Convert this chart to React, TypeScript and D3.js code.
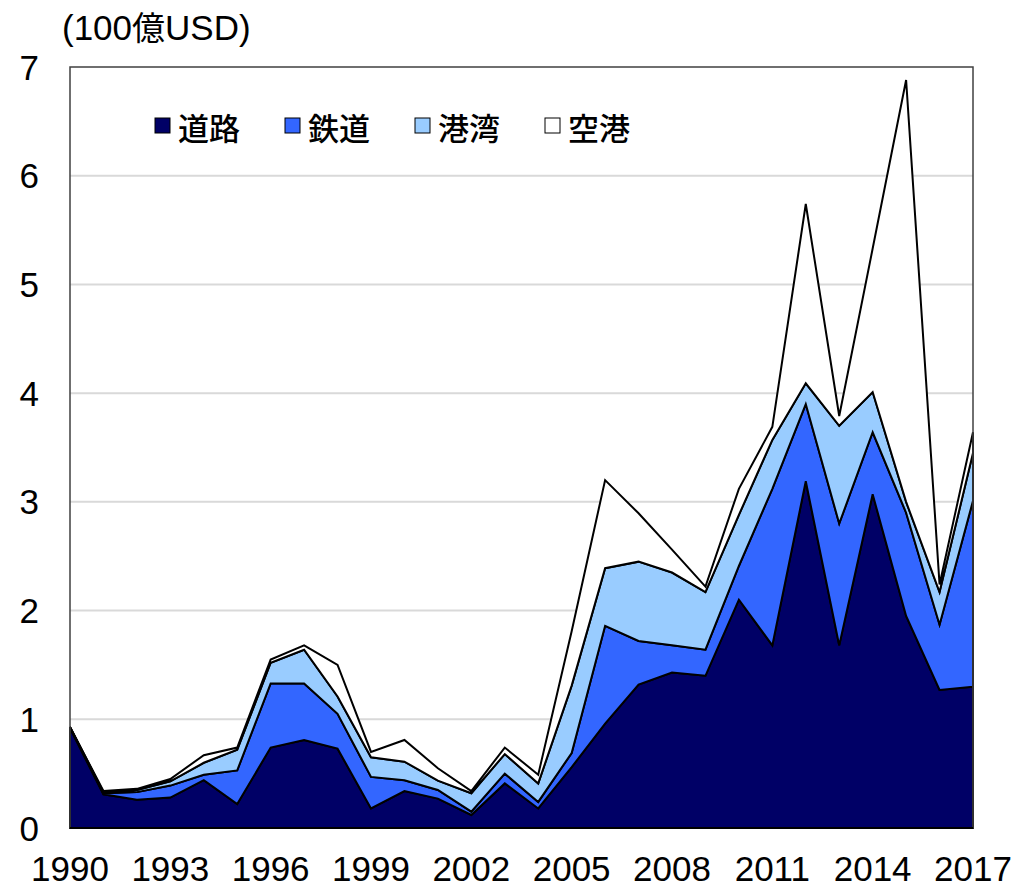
import React from 'react';
import * as d3 from 'd3';

// 1990-2017, values in 100億USD
const years = [1990, 1991, 1992, 1993, 1994, 1995, 1996, 1997, 1998, 1999, 2000, 2001, 2002, 2003, 2004, 2005, 2006, 2007, 2008, 2009, 2010, 2011, 2012, 2013, 2014, 2015, 2016, 2017];
const road = [0.92, 0.31, 0.26, 0.28, 0.44, 0.22, 0.74, 0.81, 0.73, 0.18, 0.34, 0.27, 0.12, 0.41, 0.18, 0.56, 0.96, 1.32, 1.43, 1.40, 2.10, 1.68, 3.19, 1.68, 3.07, 1.95, 1.27, 1.30];
const rail = [0.01, 0.01, 0.07, 0.11, 0.05, 0.31, 0.59, 0.52, 0.32, 0.29, 0.10, 0.08, 0.03, 0.09, 0.06, 0.13, 0.90, 0.40, 0.25, 0.24, 0.31, 1.44, 0.71, 1.12, 0.57, 0.95, 0.60, 1.71];
const port = [0.0, 0.01, 0.02, 0.04, 0.11, 0.19, 0.19, 0.31, 0.16, 0.18, 0.17, 0.085, 0.17, 0.18, 0.17, 0.62, 0.53, 0.73, 0.67, 0.53, 0.47, 0.45, 0.19, 0.90, 0.37, 0.10, 0.30, 0.44];
const air = [0.0, 0.01, 0.01, 0.02, 0.07, 0.02, 0.03, 0.04, 0.29, 0.05, 0.20, 0.115, 0.02, 0.06, 0.08, 0.50, 0.81, 0.445, 0.21, 0.05, 0.24, 0.12, 1.65, 0.09, 1.32, 3.88, 0.07, 0.19];

const seriesNames = ['道路', '鉄道', '港湾', '空港'];
const seriesColors = ['#000066', '#3366FF', '#99CCFF', '#FFFFFF'];
const yTicks = [0, 1, 2, 3, 4, 5, 6, 7];
const xTickYears = [1990, 1993, 1996, 1999, 2002, 2005, 2008, 2011, 2014, 2017];

const W = 1018;
const H = 888;
const left = 70, right = 973, top = 67, bottom = 828;
const font = '"Liberation Sans", Arial, sans-serif';
const cjk = '"Noto Sans CJK JP", "Liberation Sans", sans-serif';

export default function App() {
  const rows = years.map((y, i) => ({ year: y, 道路: road[i], 鉄道: rail[i], 港湾: port[i], 空港: air[i] }));
  const stacked = d3.stack<any>().keys(seriesNames)(rows);

  const x = d3.scaleLinear().domain([1990, 2017]).range([left, right]);
  const y = d3.scaleLinear().domain([0, 7]).range([bottom, top]);

  const area = d3.area<any>()
    .x(d => x(d.data.year))
    .y0(d => y(d[0]))
    .y1(d => y(d[1]));

  return (
    <svg width={W} height={H} style={{ position: 'absolute', left: 0, top: 0, background: '#fff' }}>
      {/* gridlines */}
      {yTicks.filter(t => t > 0 && t < 7).map(t => (
        <line key={t} x1={left} x2={right} y1={y(t)} y2={y(t)} stroke="#d9d9d9" strokeWidth={2} />
      ))}

      {/* stacked areas */}
      {stacked.map((s, i) => (
        <path key={s.key} d={area(s) || ''} fill={seriesColors[i]} stroke="#000" strokeWidth={2} strokeLinejoin="miter" />
      ))}

      {/* frame */}
      <rect x={left} y={top} width={right - left} height={bottom - top} fill="none" stroke="#404040" strokeWidth={1.5} />
      <line x1={left} x2={right} y1={bottom} y2={bottom} stroke="#000" strokeWidth={2} />

      {/* y labels */}
      {yTicks.map(t => (
        <text key={t} x={39} y={y(t)} textAnchor="end" dominantBaseline="central" fontFamily={font} fontSize={35} fill="#000">{t}</text>
      ))}

      {/* x labels */}
      {xTickYears.map(yr => (
        <text key={yr} x={x(yr)} y={881} textAnchor="middle" fontFamily={font} fontSize={35} fill="#000">{yr}</text>
      ))}

      {/* unit */}
      <text x={62} y={40} fontFamily={font} fontSize={35} fill="#000">(100<tspan fontFamily={cjk} fontSize={33}>億</tspan>USD)</text>

      {/* legend */}
      {seriesNames.map((n, i) => (
        <g key={n} transform={`translate(${155 + i * 130},118)`}>
          <rect x={0} y={0} width={15} height={15} fill={seriesColors[i]} stroke="#000" strokeWidth={1} />
          <text x={23} y={8} dominantBaseline="central" fontFamily={cjk} fontSize={31} fontWeight={500} fill="#000">{n}</text>
        </g>
      ))}
    </svg>
  );
}
